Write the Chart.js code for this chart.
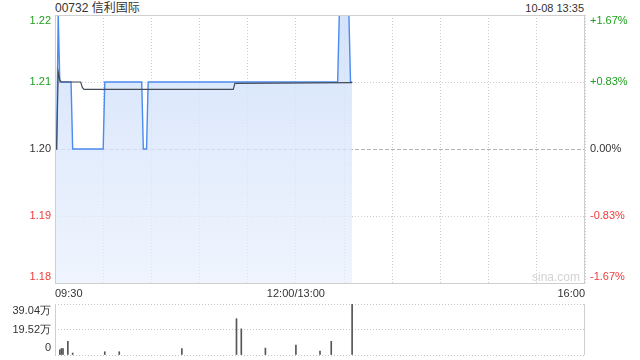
<!DOCTYPE html>
<html><head><meta charset="utf-8">
<script src="https://cdn.jsdelivr.net/npm/chart.js@4/dist/chart.umd.min.js"></script>
<style>
html,body{margin:0;padding:0;background:#fff;}
body{width:640px;height:360px;position:relative;overflow:hidden;font-family:Arial,'Liberation Sans','Noto Sans CJK SC',sans-serif;}
#title{position:absolute;left:55px;top:0px;font-size:12px;color:#333;line-height:16px;white-space:nowrap;}
#stamp{position:absolute;right:56px;top:1px;font-size:11px;color:#333;line-height:14px;white-space:nowrap;}
#wm{position:absolute;left:532px;top:270px;font-size:12px;color:#d3d3d3;line-height:14px;}
#c1{position:absolute;left:0;top:0;}
#c2{position:absolute;left:0;top:300px;}
</style></head><body>
<div id="title"></div>
<div id="stamp"></div>
<canvas id="c1" width="640" height="300"></canvas>
<canvas id="c2" width="640" height="60"></canvas>
<div id="wm">sina.com</div>
<script>
// ---- data ----
const stockTitle = '00732 信利国际';
const stampText = '10-08 13:35';
const prevClose = 1.20;
// minutes after 09:30 (trading minutes, lunch break removed)
const priceMinutes = [0, 1, 2, 3, 10, 11, 30, 31, 54, 55, 57, 58, 176, 177, 183, 184, 185];
const priceValues  = [1.20, 1.20, 1.22, 1.21, 1.21, 1.20, 1.20, 1.21, 1.21, 1.20, 1.20, 1.21, 1.21, 1.22, 1.22, 1.21, 1.21];
const avgMinutes = [0, 1, 2, 3, 4, 16, 17, 18, 111, 112, 185];
const avgValues  = [1.20, 1.20, 1.2115, 1.2103, 1.2100, 1.2100, 1.2092, 1.2089, 1.2089, 1.2098, 1.2099];
const volMinutes = [3, 4, 5, 8, 11, 31, 40, 79, 113, 116, 131, 150, 165, 172, 185];
const volValues  = [4, 5, 5, 10.5, 1.5, 2.5, 2.5, 5, 27.8, 20, 5.3, 7.5, 3, 10.5, 39.04]; // 万
const priceTicks = [1.18, 1.19, 1.20, 1.21, 1.22];
const volTicks = [0, 19.52, 39.04];
const volTickLabels = ['0', '19.52万', '39.04万'];
const gridMinutes = [0, 30, 60, 90, 120, 150, 180, 210, 240, 270, 300, 330];
const timeTickMinutes = [0, 150, 330];
const timeTickLabels = ['09:30', '12:00/13:00', '16:00'];
const sessionMinutes = 330;

document.getElementById('title').textContent = stockTitle;
document.getElementById('stamp').textContent = stampText;

const GREEN = '#1f9e1f', RED = '#f03a3a', DARK = '#333';
const FONT = "11px Arial, 'Liberation Sans', sans-serif";
const pct = v => (v / prevClose - 1) * 100;
const colorFor = v => Math.abs(v - prevClose) < 1e-6 ? DARK : (v > prevClose ? GREEN : RED);

const pricePts = priceMinutes.map((m, i) => ({x: m, y: priceValues[i]}));
const avgPts = avgMinutes.map((m, i) => ({x: m, y: avgValues[i]}));
const volPts = volMinutes.map((m, i) => ({x: m, y: volValues[i]}));

function clampY(y, area, topOff, botOff) {
  return Math.min(Math.max(y, area.top + topOff), area.bottom - botOff);
}

const mainPlugin = {
  id: 'mainDeco',
  afterDraw(chart) {
    const {ctx, chartArea: a} = chart;
    ctx.save();
    // frame
    ctx.strokeStyle = '#cfcfcf'; ctx.lineWidth = 1; ctx.setLineDash([]);
    ctx.strokeRect(a.left + 0.5, a.top + 0.5, a.right - a.left - 1, a.bottom - a.top);
    // y labels left and right
    ctx.font = FONT; ctx.textBaseline = 'middle';
    const ys = chart.scales.y, yr = chart.scales.y1;
    ys.ticks.forEach(t => {
      const y = clampY(ys.getPixelForValue(t.value), a, 5.5, 6.5);
      ctx.fillStyle = colorFor(t.value); ctx.textAlign = 'right';
      ctx.fillText(t.value.toFixed(2), a.left - 4, y);
    });
    yr.ticks.forEach(t => {
      const p = t.value;
      const y = clampY(yr.getPixelForValue(p), a, 5.5, 6.5);
      const s = Math.abs(p) < 1e-6 ? '0.00%' : (p > 0 ? '+' : '') + p.toFixed(2) + '%';
      ctx.fillStyle = Math.abs(p) < 1e-6 ? DARK : (p > 0 ? GREEN : RED);
      ctx.textAlign = 'left';
      ctx.fillText(s, a.right + 5, y);
    });
    ctx.restore();
  }
};

const c1 = document.getElementById('c1');
new Chart(c1, {
  type: 'line',
  data: {
    datasets: [
      {
        data: pricePts, borderColor: '#4b8bef', borderWidth: 1.4, pointRadius: 0, tension: 0,
        fill: 'start',
        backgroundColor: (ctx) => {
          const a = ctx.chart.chartArea; if (!a) return 'rgba(200,218,248,0.6)';
          const g = ctx.chart.ctx.createLinearGradient(0, a.top, 0, a.bottom);
          g.addColorStop(0, 'rgba(205,222,250,0.85)');
          g.addColorStop(1, 'rgba(232,240,253,0.7)');
          return g;
        },
        order: 2
      },
      { data: avgPts, borderColor: '#454b57', borderWidth: 1.2, pointRadius: 0, tension: 0, fill: false, order: 1 }
    ]
  },
  options: {
    responsive: false, animation: false, devicePixelRatio: 1,
    layout: { padding: { top: 15, left: 0, right: 0, bottom: 0 } },
    plugins: { legend: {display: false}, tooltip: {enabled: false} },
    scales: {
      x: {
        type: 'linear', min: 0, max: sessionMinutes,
        afterBuildTicks: ax => { ax.ticks = gridMinutes.map(v => ({value: v})); },
        afterFit: ax => { ax.height = 17; },
        ticks: {
          autoSkip: false, maxRotation: 0, align: 'inner', padding: 4,
          color: DARK, font: {size: 11, family: "Arial, 'Liberation Sans', sans-serif"},
          callback: v => { const i = timeTickMinutes.indexOf(v); return i >= 0 ? timeTickLabels[i] : ''; }
        },
        grid: { color: '#cccccc', lineWidth: 1, drawTicks: false },
        border: { display: false, dash: [1, 2] }
      },
      y: {
        position: 'left', min: priceTicks[0], max: priceTicks[priceTicks.length - 1],
        afterBuildTicks: ax => { ax.ticks = priceTicks.map(v => ({value: v})); },
        afterFit: ax => { ax.width = 55; },
        ticks: { display: false },
        grid: {
          drawTicks: false,
          color: c => (c.tick && Math.abs(c.tick.value - prevClose) < 1e-6) ? '#b5b5b5' : '#cccccc'
        },
        border: {
          display: false,
          dash: c => (c.tick && Math.abs(c.tick.value - prevClose) < 1e-6) ? [4, 2] : [1, 2]
        }
      },
      y1: {
        position: 'right', min: pct(priceTicks[0]), max: pct(priceTicks[priceTicks.length - 1]),
        afterBuildTicks: ax => { ax.ticks = priceTicks.map(v => ({value: pct(v)})); },
        afterFit: ax => { ax.width = 55; },
        ticks: { display: false },
        grid: { display: false },
        border: { display: false }
      }
    }
  },
  plugins: [mainPlugin]
});

const volPlugin = {
  id: 'volDeco',
  afterDraw(chart) {
    const {ctx, chartArea: a} = chart;
    ctx.save();
    ctx.strokeStyle = '#cfcfcf'; ctx.lineWidth = 1; ctx.setLineDash([]);
    ctx.beginPath();
    ctx.moveTo(a.left + 0.5, a.top); ctx.lineTo(a.left + 0.5, a.bottom);
    ctx.moveTo(a.right - 0.5, a.top); ctx.lineTo(a.right - 0.5, a.bottom);
    ctx.stroke();
    ctx.font = FONT; ctx.textBaseline = 'middle'; ctx.textAlign = 'right'; ctx.fillStyle = DARK;
    const ys = chart.scales.y;
    ys.ticks.forEach(t => {
      const i = volTicks.indexOf(t.value);
      const y = clampY(ys.getPixelForValue(t.value), a, 7, 7);
      ctx.fillText(volTickLabels[i], a.left - 4, y);
    });
    ctx.restore();
  }
};

new Chart(document.getElementById('c2'), {
  type: 'bar',
  data: { datasets: [{ data: volPts, backgroundColor: '#555555', barThickness: 1, borderWidth: 0 }] },
  options: {
    responsive: false, animation: false, devicePixelRatio: 1,
    layout: { padding: { top: 4, left: 0, right: 55, bottom: 5 } },
    plugins: { legend: {display: false}, tooltip: {enabled: false} },
    scales: {
      x: { type: 'linear', min: 0, max: sessionMinutes, display: false, offset: false },
      y: {
        min: volTicks[0], max: volTicks[volTicks.length - 1],
        afterBuildTicks: ax => { ax.ticks = volTicks.map(v => ({value: v})); },
        afterFit: ax => { ax.width = 55; },
        ticks: { display: false },
        grid: { color: '#c4c4c4', drawTicks: false },
        border: { display: false, dash: [1, 2] }
      }
    }
  },
  plugins: [volPlugin]
});
</script>
</body></html>
